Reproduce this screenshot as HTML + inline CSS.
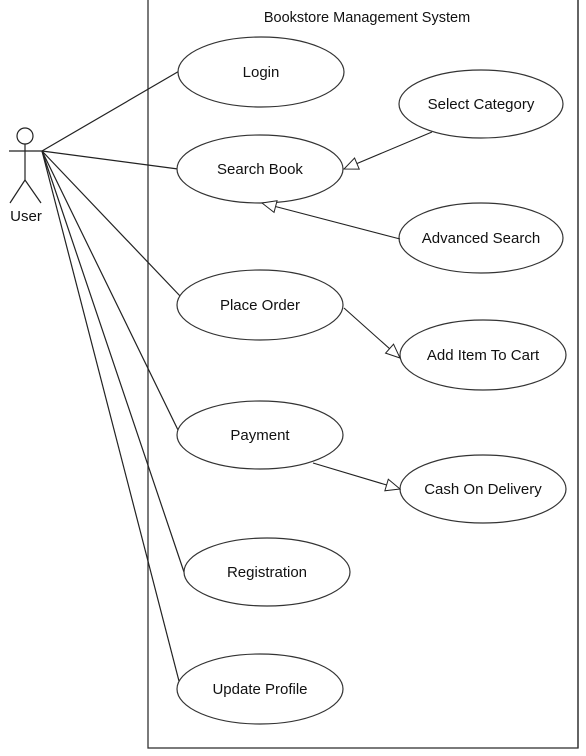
<!DOCTYPE html>
<html><head><style>
html,body{margin:0;padding:0;background:#fff;}
svg{display:block;}
text{font-family:"Liberation Sans",sans-serif;font-size:15px;fill:#111;}
</style></head><body>
<svg width="586" height="756" viewBox="0 0 586 756">
<defs>
<marker id="tri" markerWidth="16" markerHeight="14" refX="15" refY="7" orient="auto" markerUnits="userSpaceOnUse">
<path d="M1,1 L15,7 L1,13 Z" fill="#fff" stroke="#222" stroke-width="1"/>
</marker>
</defs>
<rect x="148" y="-2" width="430" height="750" fill="none" stroke="#333" stroke-width="1.3"/>
<line x1="578" y1="0" x2="578" y2="748" stroke="#333" stroke-width="1.3"/>
<text x="367" y="22" text-anchor="middle" style="font-size:14.5px">Bookstore Management System</text>
<!-- actor -->
<g stroke="#222" stroke-width="1.2" fill="none">
<circle cx="25" cy="136" r="8"/>
<line x1="25" y1="144" x2="25" y2="180"/>
<line x1="9" y1="151" x2="42" y2="151"/>
<line x1="25" y1="180" x2="10" y2="203"/>
<line x1="25" y1="180" x2="41" y2="203"/>
<line x1="42" y1="151" x2="181" y2="70"/>
<line x1="42" y1="151" x2="178" y2="169"/>
<line x1="42" y1="151" x2="181" y2="297"/>
<line x1="42" y1="151" x2="178" y2="430"/>
<line x1="42" y1="151" x2="185" y2="575"/>
<line x1="42" y1="151" x2="180" y2="685"/>
</g>
<text x="26" y="221" text-anchor="middle">User</text>
<g fill="#fff" stroke="#333" stroke-width="1.2">
<ellipse cx="261" cy="72" rx="83" ry="35"/>
<ellipse cx="260" cy="169" rx="83" ry="34"/>
<ellipse cx="481" cy="104" rx="82" ry="34"/>
<ellipse cx="481" cy="238" rx="82" ry="35"/>
<ellipse cx="260" cy="305" rx="83" ry="35"/>
<ellipse cx="483" cy="355" rx="83" ry="35"/>
<ellipse cx="260" cy="435" rx="83" ry="34"/>
<ellipse cx="483" cy="489" rx="83" ry="34"/>
<ellipse cx="267" cy="572" rx="83" ry="34"/>
<ellipse cx="260" cy="689" rx="83" ry="35"/>
</g>
<g stroke="#222" stroke-width="1.1" fill="none">
<line x1="432" y1="132" x2="344" y2="169" marker-end="url(#tri)"/>
<line x1="400" y1="239" x2="262" y2="203" marker-end="url(#tri)"/>
<line x1="344" y1="308" x2="400" y2="358" marker-end="url(#tri)"/>
<line x1="313" y1="463" x2="400" y2="489" marker-end="url(#tri)"/>
</g>
<g text-anchor="middle">
<text x="261" y="77">Login</text>
<text x="260" y="174">Search Book</text>
<text x="481" y="109">Select Category</text>
<text x="481" y="243">Advanced Search</text>
<text x="260" y="310">Place Order</text>
<text x="483" y="360">Add Item To Cart</text>
<text x="260" y="440">Payment</text>
<text x="483" y="494">Cash On Delivery</text>
<text x="267" y="577">Registration</text>
<text x="260" y="694">Update Profile</text>
</g>
</svg>
</body></html>
